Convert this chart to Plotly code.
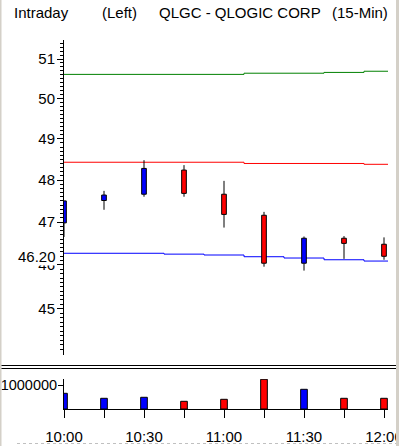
import math
import numpy as np
import plotly.graph_objects as go

# ---------------- data ----------------
day = "2000-01-03"
times = ["10:00", "10:15", "10:30", "10:45", "11:00", "11:15", "11:30", "11:45", "12:00"]
opens = [46.98, 47.51, 47.66, 48.24, 47.66, 47.16, 46.04, 46.62, 46.48]
highs = [47.50, 47.74, 48.48, 48.36, 47.98, 47.24, 46.66, 46.67, 46.64]
lows = [46.65, 47.29, 47.60, 47.60, 46.87, 45.96, 45.87, 46.14, 46.12]
closes = [47.50, 47.64, 48.28, 47.68, 47.18, 46.04, 46.62, 46.50, 46.20]
volume = [654000, 446000, 488000, 321000, 404000, 1238000, 821000, 446000, 446000]

upper_line = [50.61, 50.61, 50.61, 50.61, 50.61, 50.64, 50.64, 50.66, 50.69]
middle_line = [48.43, 48.43, 48.43, 48.43, 48.43, 48.40, 48.40, 48.40, 48.38]
lower_line = [46.27, 46.27, 46.27, 46.25, 46.23, 46.19, 46.16, 46.12, 46.09]

price_ticks = [45, 46, 47, 48, 49, 50, 51]
volume_ticks = [1000000]
volume_tick_labels = ["1000000"]
time_tick_labels = ["10:00", "", "10:30", "", "11:00", "", "11:30", "", "12:00"]
last_label = "46.20"
title_parts = ["Intraday", "(Left)", "QLGC - QLOGIC CORP", "(15-Min)"]

# ---------------- layout helpers ----------------
W, H = 399, 446
L, R, T, B = 64, 388, 40, 409
FONT = "Liberation Sans"
UP, DOWN = "#0000ff", "#ff0000"
FRAME = "#d4d0c8"


def px_x(px):
    return (px - L) / (R - L)


def px_y(py):
    return (B - py) / (B - T)


x = [f"{day} {t}" for t in times]
x_end = f"{day} 12:01:30"
colors = [UP if c >= o else DOWN for o, c in zip(opens, closes)]
body_low = [min(o, c) for o, c in zip(opens, closes)]
body_high = [max(o, c) for o, c in zip(opens, closes)]
body_h = [max(hi - lo, 0.005) for lo, hi in zip(body_low, body_high)]

wick_x, wick_y = [], []
for xi, lo, hi, bl, bh in zip(x, lows, highs, body_low, body_high):
    wick_x += [xi, xi, None, xi, xi, None]
    wick_y += [lo, bl, None, bh, hi, None]

fig = go.Figure()

# indicator lines (base subplot, drawn below candles)
for vals, col in [(upper_line, "#008000"), (middle_line, "#ff0000"), (lower_line, "#0000ff")]:
    fig.add_trace(go.Scatter(x=x + [x_end], y=vals + [vals[-1]], mode="lines",
                             line=dict(color=col, width=1, shape="hvh"),
                             xaxis="x", yaxis="y", hoverinfo="skip"))

# candles on overlaying axis
fig.add_trace(go.Scatter(x=wick_x, y=wick_y, mode="lines", line=dict(color="black", width=1),
                         xaxis="x", yaxis="y3", hoverinfo="skip"))
fig.add_trace(go.Bar(x=x, y=body_h, base=body_low, width=105000,
                     marker=dict(color=colors, line=dict(color="black", width=1)),
                     xaxis="x", yaxis="y3", hoverinfo="skip"))

# volume
fig.add_trace(go.Bar(x=x, y=volume, width=150000,
                     marker=dict(color=colors, line=dict(color="black", width=1)),
                     xaxis="x2", yaxis="y2", hoverinfo="skip"))

minor_vals = [round(v, 1) for v in np.arange(44.0, 51.55, 0.1) if abs(v - round(v)) > 1e-6]
yrange = [math.log10(43.97), math.log10(51.49)]

fig.update_layout(
    width=W, height=H,
    margin=dict(l=L, r=W - R, t=T, b=H - B, pad=0, autoexpand=False),
    paper_bgcolor="white", plot_bgcolor="white",
    showlegend=False, hovermode=False,
    font=dict(family=FONT, size=15, color="black"),
    xaxis=dict(domain=[0, 1], anchor="y", type="date", range=[x[0], x_end],
               showline=False, showticklabels=False, ticks="", showgrid=False, zeroline=False),
    xaxis2=dict(domain=[0, 1], anchor="y2", type="date", range=[x[0], x_end],
                tickmode="array", tickvals=x, ticktext=time_tick_labels,
                ticks="outside", ticklen=8, tickcolor="black", tickwidth=1,
                ticklabelstandoff=6, ticklabeloverflow="allow",
                showline=True, linecolor="black", linewidth=1,
                showgrid=False, zeroline=False, tickfont=dict(size=15)),
    yaxis=dict(domain=[px_y(355), 1], anchor="x", type="log", range=yrange,
               tickmode="array", tickvals=price_ticks,
               ticks="outside", ticklen=6, tickcolor="black", tickwidth=1,
               ticklabelstandoff=-1,
               showline=True, linecolor="black", linewidth=1,
               showgrid=False, zeroline=False, tickfont=dict(size=15),
               minor=dict(tickmode="array", tickvals=minor_vals, ticks="outside",
                          ticklen=3, tickcolor="black", tickwidth=1, showgrid=False)),
    yaxis3=dict(overlaying="y", anchor="x", type="log", range=yrange, visible=False),
    yaxis2=dict(domain=[0, px_y(379)], anchor="x2", range=[0, 1250000],
                tickmode="array", tickvals=volume_ticks, ticktext=volume_tick_labels,
                ticks="outside", ticklen=5, tickcolor="black", tickwidth=1,
                ticklabelstandoff=-2, ticklabeloverflow="allow",
                showline=True, linecolor="black", linewidth=1,
                showgrid=False, zeroline=False, tickfont=dict(size=14.5)),
)

shapes = [
    dict(type="rect", xref="paper", yref="paper", x0=px_x(0), x1=px_x(1.5), y0=px_y(H), y1=px_y(0),
         fillcolor=FRAME, line=dict(width=0), layer="above"),
    dict(type="rect", xref="paper", yref="paper", x0=px_x(396), x1=px_x(W), y0=px_y(H), y1=px_y(0),
         fillcolor=FRAME, line=dict(width=0), layer="above"),
    dict(type="line", xref="paper", yref="paper", x0=px_x(1.5), x1=px_x(396), y0=px_y(365.5), y1=px_y(365.5),
         line=dict(color="black", width=1), layer="above"),
    dict(type="line", xref="paper", yref="paper", x0=px_x(1.5), x1=px_x(396), y0=px_y(368.5), y1=px_y(368.5),
         line=dict(color="black", width=1), layer="above"),
    dict(type="line", xref="paper", yref="paper", x0=px_x(17), x1=px_x(396), y0=px_y(443.5), y1=px_y(443.5),
         line=dict(color="#c0c0c0", width=1, dash="dot"), layer="above"),
]
fig.update_layout(shapes=shapes)

annotations = []
for text, left in zip(title_parts, [12, 100, 157, 330]):
    annotations.append(dict(text=text, xref="paper", yref="paper", x=px_x(left), y=px_y(12),
                            xanchor="left", yanchor="middle", showarrow=False,
                            font=dict(family=FONT, size=15, color="black")))
annotations.append(dict(text=last_label, xref="paper", yref="y", x=0, xshift=-7,
                        y=math.log10(closes[-1]), xanchor="right", yanchor="middle",
                        showarrow=False, bgcolor="white", borderpad=0,
                        font=dict(family=FONT, size=15, color="black")))
fig.update_layout(annotations=annotations)

fig.write_html("out.html", config={"displayModeBar": False},
               post_script="document.body.style.margin='0';")
